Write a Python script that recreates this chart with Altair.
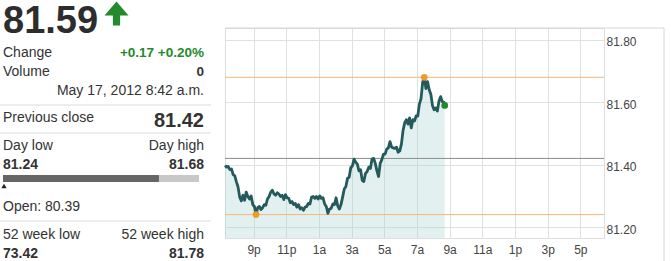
import altair as alt
import pandas as pd

# ---------------- data ----------------
LAST_PRICE = "81.59"
CHANGE_TEXT = "+0.17 +0.20%"
VOLUME_TEXT = "0"
TIMESTAMP = "May 17, 2012 8:42 a.m."
PREV_CLOSE = 81.42
DAY_LOW = 81.24
DAY_HIGH = 81.68
CURRENT = 81.59
OPEN_TEXT = "Open: 80.39"
WEEK52_LOW = "73.42"
WEEK52_HIGH = "81.78"

# intraday prices, every 0.1 h from 19.25 (7:15 p.m.) and a final quote at 8:42 a.m.
PRICES = [
    81.397, 81.392, 81.394, 81.384, 81.386, 81.368, 81.364, 81.345, 81.328, 81.296,
    81.284, 81.302, 81.286, 81.312, 81.298, 81.290, 81.300, 81.272, 81.266, 81.240,
    81.262, 81.266, 81.256, 81.262, 81.272, 81.270, 81.290, 81.298, 81.312, 81.318,
    81.306, 81.302, 81.310, 81.306, 81.298, 81.302, 81.288, 81.304, 81.294, 81.292,
    81.278, 81.282, 81.272, 81.276, 81.264, 81.272, 81.258, 81.262, 81.254, 81.264,
    81.266, 81.276, 81.274, 81.296, 81.298, 81.292, 81.298, 81.290, 81.300, 81.292,
    81.294, 81.274, 81.266, 81.244, 81.258, 81.260, 81.274, 81.272, 81.294, 81.268,
    81.258, 81.272, 81.296, 81.322, 81.330, 81.356, 81.360, 81.390, 81.396, 81.418,
    81.408, 81.402, 81.380, 81.384, 81.350, 81.346, 81.372, 81.378, 81.392, 81.388,
    81.418, 81.420, 81.404, 81.380, 81.362, 81.404, 81.416, 81.434, 81.434, 81.450,
    81.454, 81.474, 81.456, 81.454, 81.452, 81.456, 81.440, 81.444, 81.466, 81.510,
    81.534, 81.544, 81.530, 81.550, 81.518, 81.544, 81.540, 81.556, 81.556, 81.594,
    81.612, 81.664, 81.680, 81.644, 81.666, 81.640, 81.626, 81.590, 81.576, 81.582,
    81.572, 81.604, 81.618, 81.602, 81.600,
    81.590,
]
HOURS = [round(19.25 + 0.1 * i, 2) for i in range(len(PRICES) - 1)] + [32.7]
LOW_HOUR = 21.15
HIGH_HOUR = 31.45

X_DOMAIN = [19.25, 42.45]
X_TICKS = [21, 23, 25, 27, 29, 31, 33, 35, 37, 39, 41]
Y_DOMAIN = [81.165, 81.838]
Y_TICKS = [81.2, 81.4, 81.6, 81.8]

df = pd.DataFrame({"hour": HOURS, "price": PRICES})
marks_df = pd.DataFrame({
    "hour": [LOW_HOUR, HIGH_HOUR],
    "price": [DAY_LOW, DAY_HIGH],
})
last_df = df.tail(1)
ONE = pd.DataFrame({"k": [0]})

# ---------------- layout / style ----------------
FONT = "Liberation Sans"
TEXT = "#333333"
GREEN = "#238a2e"
GRID = "#dbe2df"
PLOT_X0, PLOT_Y0 = 225, 28
W, H = 379, 210

x_enc = alt.X(
    "hour:Q",
    scale=alt.Scale(domain=X_DOMAIN, nice=False, zero=False),
    axis=alt.Axis(
        values=X_TICKS, tickCount=len(X_TICKS) + 2,
        labelExpr="(datum.value % 12 == 0 ? 12 : datum.value % 12) + (datum.value % 24 < 12 ? 'a' : 'p')",
        grid=True, gridColor=GRID, domain=False, ticks=False, title=None,
        labelFont=FONT, labelFontSize=12, labelColor="#444444", labelPadding=6,
        labelOverlap=False,
    ),
)
y_enc = alt.Y(
    "price:Q",
    scale=alt.Scale(domain=Y_DOMAIN, nice=False, zero=False),
    axis=alt.Axis(
        orient="right", values=Y_TICKS, tickCount=len(Y_TICKS) + 2, format=".2f",
        grid=True, gridColor=GRID, domain=False, ticks=False, title=None,
        labelFont=FONT, labelFontSize=12, labelColor="#444444", labelPadding=2,
        labelOffset=2, labelOverlap=False,
    ),
)

base = alt.Chart(df)
area = base.mark_area(color="#9fd1cc", opacity=0.3).encode(
    x=x_enc, y=y_enc, y2=alt.datum(Y_DOMAIN[0])
)
ref_lines = [
    alt.Chart(ONE).mark_rule(color="#f2b77c", strokeWidth=1).encode(y=alt.datum(DAY_HIGH)),
    alt.Chart(ONE).mark_rule(color="#f2b77c", strokeWidth=1).encode(y=alt.datum(DAY_LOW)),
    alt.Chart(ONE).mark_rule(color="#8c8c8c", strokeWidth=1).encode(y=alt.datum(PREV_CLOSE)),
]
line = base.mark_line(color="#245a5b", strokeWidth=2.8, strokeJoin="round").encode(
    x="hour:Q", y="price:Q"
)
hl_points = alt.Chart(marks_df).mark_circle(color="#f09a2a", size=45, opacity=1).encode(
    x="hour:Q", y="price:Q"
)
last_point = alt.Chart(last_df).mark_circle(color="#1f8c2c", size=45, opacity=1).encode(
    x="hour:Q", y="price:Q"
)

# frame around chart panel
frame = [
    alt.Chart(ONE).mark_rule(color="#d6d6d6").encode(
        x=alt.value(0), x2=alt.value(664 - PLOT_X0), y=alt.value(0)),
    alt.Chart(ONE).mark_rule(color="#d6d6d6").encode(
        x=alt.value(664 - PLOT_X0), y=alt.value(0), y2=alt.value(261 - PLOT_Y0)),
]


def label(txt, X, Y, size=14, weight="normal", color=TEXT, align="left"):
    return alt.Chart(ONE).mark_text(
        align=align, baseline="alphabetic", font=FONT, fontSize=size,
        fontWeight=weight, color=color,
    ).encode(x=alt.value(X - PLOT_X0), y=alt.value(Y - PLOT_Y0), text=alt.value(txt))


def hline(Y, x0=0, x1=211):
    return alt.Chart(ONE).mark_rule(color="#dcdcdc").encode(
        x=alt.value(x0 - PLOT_X0), x2=alt.value(x1 - PLOT_X0), y=alt.value(Y - PLOT_Y0))


ARROW = "M0,-1L1,0.17L0.3,0.17L0.3,1L-0.3,1L-0.3,0.17L-1,0.17Z"
arrow = alt.Chart(ONE).mark_point(shape=ARROW, filled=True, size=576, color=GREEN, opacity=1).encode(
    x=alt.value(116.5 - PLOT_X0), y=alt.value(13.5 - PLOT_Y0))

BAR_L, BAR_R = 3, 199
frac = (CURRENT - DAY_LOW) / (DAY_HIGH - DAY_LOW)
bar_bg = alt.Chart(ONE).mark_rect(color="#c8c8c8").encode(
    x=alt.value(BAR_L - PLOT_X0), x2=alt.value(BAR_R - PLOT_X0),
    y=alt.value(175 - PLOT_Y0), y2=alt.value(182 - PLOT_Y0))
bar_fg = alt.Chart(ONE).mark_rect(color="#666666").encode(
    x=alt.value(BAR_L - PLOT_X0), x2=alt.value(BAR_L + frac * (BAR_R - BAR_L) - PLOT_X0),
    y=alt.value(175 - PLOT_Y0), y2=alt.value(182 - PLOT_Y0))
open_marker = alt.Chart(ONE).mark_point(shape="triangle-up", filled=True, size=28, color="#222222", opacity=1).encode(
    x=alt.value(4 - PLOT_X0), y=alt.value(186 - PLOT_Y0))

panel = [
    label(LAST_PRICE, 3, 33, size=38, weight="bold", color="#2d2d2d"),
    arrow,
    label("Change", 3, 57),
    label(CHANGE_TEXT, 204, 57, size=13.5, weight="bold", color=GREEN, align="right"),
    label("Volume", 3, 76),
    label(VOLUME_TEXT, 204, 76, size=13.5, weight="bold", align="right"),
    label(TIMESTAMP, 204, 95, align="right"),
    hline(105),
    label("Previous close", 3, 122),
    label(f"{PREV_CLOSE:.2f}", 204, 127, size=20, weight="bold", align="right"),
    hline(133),
    label("Day low", 3, 150),
    label("Day high", 204, 150, align="right"),
    label(f"{DAY_LOW:.2f}", 3, 169, weight="bold"),
    label(f"{DAY_HIGH:.2f}", 204, 169, weight="bold", align="right"),
    bar_bg, bar_fg, open_marker,
    label(OPEN_TEXT, 3, 211),
    hline(221),
    label("52 week low", 3, 239),
    label("52 week high", 204, 239, align="right"),
    label(WEEK52_LOW, 3, 258, weight="bold"),
    label(WEEK52_HIGH, 204, 258, weight="bold", align="right"),
]

chart = alt.layer(
    area, *ref_lines, line, hl_points, last_point, *frame, *panel
).properties(
    width=W, height=H,
    padding={"left": PLOT_X0, "top": PLOT_Y0, "right": 671 - PLOT_X0 - W, "bottom": 261 - PLOT_Y0 - H},
    autosize=alt.AutoSizeParams(type="none"),
).configure_view(fill="#eef4f1", stroke=None).configure(background="white")

chart.save("out.html", embed_options={"renderer": "svg", "actions": False})
